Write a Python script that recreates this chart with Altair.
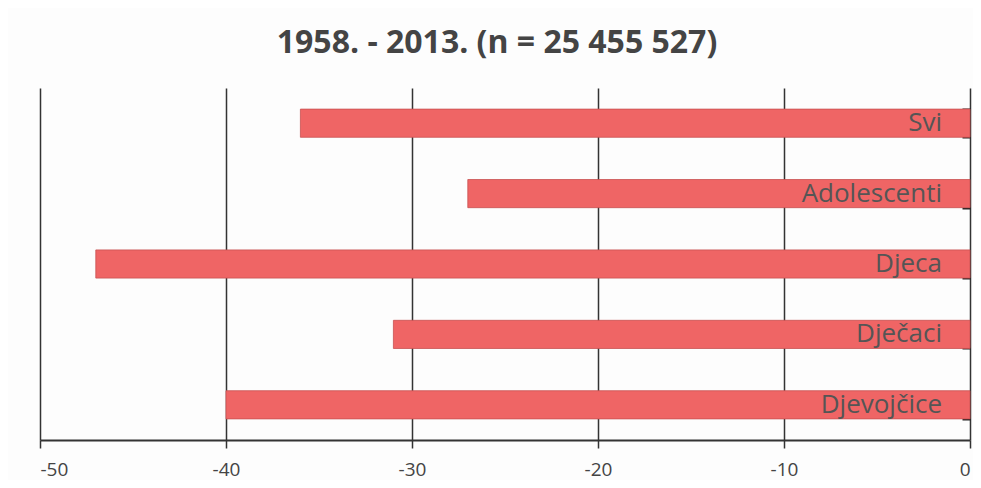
import altair as alt
import pandas as pd

categories = ["Svi", "Adolescenti", "Djeca", "Dječaci", "Djevojčice"]
values = [-36, -27, -47, -31, -40]
x_ticks = [-50, -40, -30, -20, -10, 0]
title_text = "1958. - 2013. (n = 25 455 527)"

df = pd.DataFrame({"grupa": categories, "vrijednost": values})

y_enc = alt.Y(
    "grupa:N",
    sort=categories,
    title=None,
    scale=alt.Scale(paddingInner=0.6, paddingOuter=0.3),
    axis=alt.Axis(
        orient="right",
        labels=False,
        domain=False,
        ticks=True,
        tickBand="extent",
        tickSize=8,
        tickColor="#222222",
        tickWidth=2,
        offset=-8,
        grid=False,
    ),
)

x_enc = alt.X(
    "vrijednost:Q",
    title=None,
    scale=alt.Scale(domain=[-50, 0], nice=False),
    axis=alt.Axis(
        values=x_ticks,
        labelExpr="'' + datum.value",
        grid=True,
        gridColor="#333333",
        gridWidth=1.5,
        gridOpacity=1,
        domainColor="#333333",
        domainWidth=2,
        tickColor="#333333",
        tickWidth=1.5,
        tickSize=8,
        labelFontSize=19,
        labelFont="Open Sans",
        labelColor="#444444",
        labelPadding=12,
    ),
)

bars = alt.Chart(df).mark_bar(color="#ef6565", stroke="#c85050", strokeWidth=0.8).encode(
    x=x_enc, y=y_enc
)

labels = alt.Chart(df).mark_text(
    align="right", baseline="middle", dx=-28, fontSize=26, font="Open Sans", color="#555555"
).encode(x=alt.datum(0), y=alt.Y("grupa:N", sort=categories), text="grupa:N")

chart = (
    alt.layer(bars, labels)
    .properties(
        width=930,
        height=352,
        padding={"left": 32, "top": 80, "right": 3, "bottom": 40},
        autosize=alt.AutoSizeParams(type="none"),
        background="#fdfdfd",
        title=alt.Title(
            title_text,
            fontSize=32,
            font="Open Sans",
            fontWeight="bold",
            color="#444444",
            anchor="middle",
            offset=28,
            dx=-8,
        ),
    )
    .configure_view(stroke=None)
)

chart.save("out.html", embed_options={"renderer": "svg", "actions": False})
